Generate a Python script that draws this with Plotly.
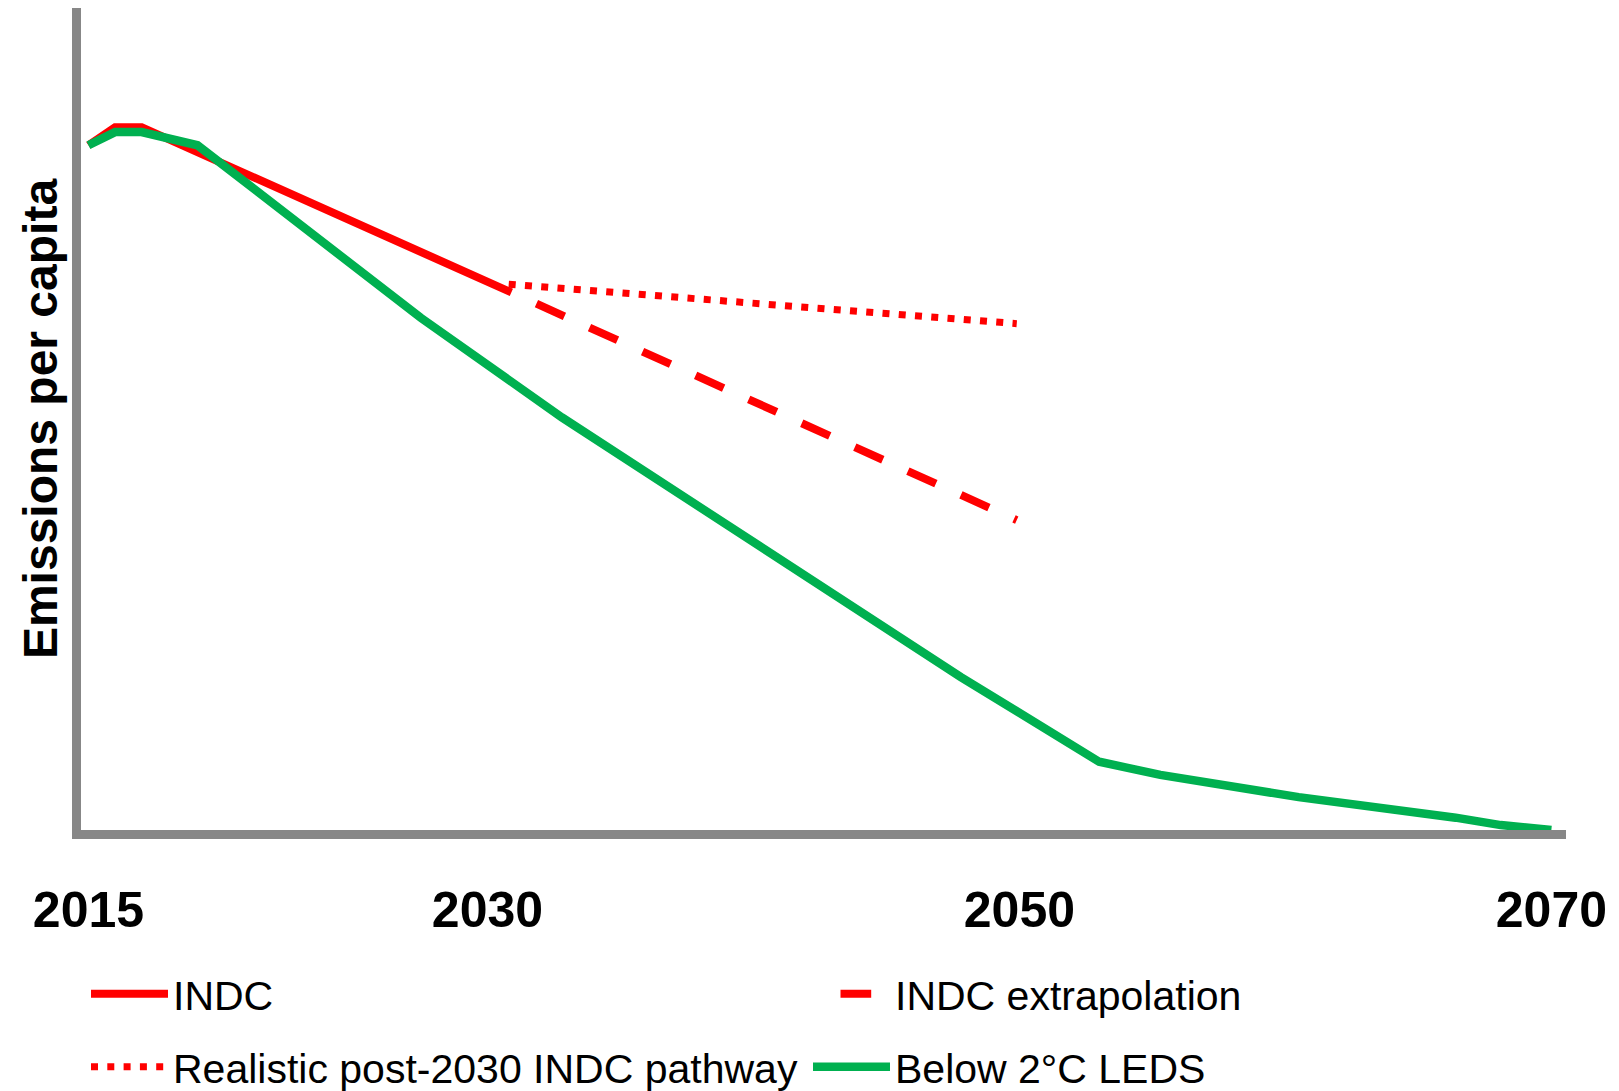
import plotly.graph_objects as go

# ---- data (arbitrary emission units, years) ----
indc_years = [2015, 2016, 2017, 2030.9]
indc_vals = [8.33, 8.55, 8.55, 6.54]

extrap_years = [2030.9, 2049.9]
extrap_vals = [6.54, 3.77]

realistic_years = [2030.8, 2049.9]
realistic_vals = [6.64, 6.16]

leds_years = [2015, 2016, 2017, 2019.1, 2027.5, 2030, 2032.8, 2047.8, 2053, 2055.3, 2060.5, 2066.4, 2068.1, 2070]
leds_vals = [8.33, 8.49, 8.49, 8.33, 6.23, 5.67, 5.02, 1.86, 0.83, 0.67, 0.40, 0.15, 0.06, 0.0]

tick_years = [2015, 2030, 2050, 2070]
tick_labels = ["2015", "2030", "2050", "2070"]

RED = "#FF0000"
GREEN = "#00B050"
AXIS = "#878787"
FONT = "Liberation Sans, Arial, sans-serif"

fig = go.Figure()
fig.add_trace(go.Scatter(x=indc_years, y=indc_vals, mode="lines", name="INDC",
                         line=dict(color=RED, width=8), legend="legend"))
fig.add_trace(go.Scatter(x=extrap_years, y=extrap_vals, mode="lines", name="INDC extrapolation",
                         line=dict(color=RED, width=8, dash="0px,27.5px,30.7px,0px"), legend="legend"))
fig.add_trace(go.Scatter(x=realistic_years, y=realistic_vals, mode="lines",
                         name="Realistic post-2030 INDC pathway",
                         line=dict(color=RED, width=7, dash="7px,9.3px"), legend="legend2"))
fig.add_trace(go.Scatter(x=leds_years, y=leds_vals, mode="lines", name="Below 2°C LEDS",
                         line=dict(color=GREEN, width=8.5), legend="legend2"))

legend_common = dict(orientation="h", xref="container", yref="container",
                     xanchor="left", yanchor="middle", x=86 / 1619,
                     font=dict(family=FONT, size=41, color="black"),
                     itemwidth=77, entrywidth=630, entrywidthmode="pixels",
                     bgcolor="rgba(0,0,0,0)", borderwidth=0, traceorder="normal")

fig.update_layout(
    width=1619, height=1091,
    paper_bgcolor="white", plot_bgcolor="white",
    margin=dict(l=81, r=53, t=8, b=261, autoexpand=False),
    showlegend=True,
    legend=dict(**legend_common, y=1 - 994 / 1091),
    legend2=dict(**legend_common, y=1 - 1067 / 1091),
    xaxis=dict(range=[2014.72, 2070.55], tickvals=tick_years, ticktext=tick_labels,
               showline=True, linecolor=AXIS, linewidth=9, showgrid=False, zeroline=False,
               ticks="outside", ticklen=28, tickcolor="rgba(0,0,0,0)",
               tickfont=dict(family=FONT, size=50, color="black", weight=700)),
    yaxis=dict(range=[0, 10], showline=True, linecolor=AXIS, linewidth=9,
               showgrid=False, zeroline=False, showticklabels=False, ticks="",
               title=dict(text="Emissions per capita", standoff=3,
                          font=dict(family=FONT, size=48, color="black", weight=700))),
)

fig.write_html("out.html", config={"displayModeBar": False},
               post_script="document.body.style.margin='0px';document.body.style.overflow='hidden';")
